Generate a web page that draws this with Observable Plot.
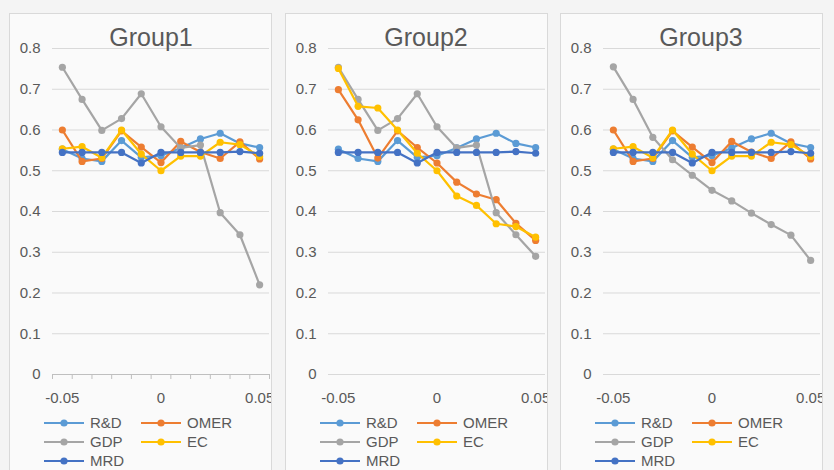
<!DOCTYPE html>
<html>
<head>
<meta charset="utf-8">
<script src="https://cdn.jsdelivr.net/npm/d3@7"></script>
<script src="https://cdn.jsdelivr.net/npm/@observablehq/plot@0.6"></script>
<style>
  html, body { margin: 0; padding: 0; }
  body { width: 834px; height: 470px; background: #f4f4f4; overflow: hidden; position: relative;
         font-family: "Liberation Sans", Arial, sans-serif; color: #595959; }
  .panel { position: absolute; top: 13px; width: 261px; height: 470px; border: 1px solid #d9d9d9;
           background: #fafafa; overflow: hidden; }
  .title { position: absolute; top: 8px; width: 200px; text-align: center; font-size: 25px; line-height: 30px; color: #595959; }
  .plotwrap { position: absolute; left: 0; top: 0; }
  .legend { position: absolute; top: 399px; left: 34px; display: grid; grid-template-columns: 97px 97px; row-gap: 0px; font-size: 15px; }
  .item { display: flex; align-items: center; height: 19px; white-space: nowrap; }
  .item svg { margin-right: 6px; }
</style>
</head>
<body>
<div id="root"></div>
<script>
// ---- data ----
const xs = [-0.05, -0.04, -0.03, -0.02, -0.01, 0, 0.01, 0.02, 0.03, 0.04, 0.05];
const seriesNames = ["R&D", "OMER", "GDP", "EC", "MRD"];
const seriesColors = ["#5B9BD5", "#ED7D31", "#A5A5A5", "#FFC000", "#4472C4"];
const groupNames = ["Group1", "Group2", "Group3"];
const yTicks = [0, 0.1, 0.2, 0.3, 0.4, 0.5, 0.6, 0.7, 0.8];
const xTickLabels = [-0.05, 0, 0.05];

const rd = [0.553, 0.530, 0.523, 0.574, 0.533, 0.537, 0.556, 0.578, 0.592, 0.567, 0.557];
const mrd = [0.545, 0.545, 0.545, 0.545, 0.519, 0.545, 0.545, 0.545, 0.545, 0.547, 0.543];
const omer1 = [0.600, 0.523, 0.530, 0.598, 0.558, 0.520, 0.572, 0.546, 0.530, 0.571, 0.529];
const ec1 = [0.554, 0.559, 0.532, 0.600, 0.541, 0.500, 0.536, 0.536, 0.570, 0.564, 0.535];
const gdp1 = [0.754, 0.675, 0.599, 0.628, 0.689, 0.608, 0.556, 0.563, 0.397, 0.343, 0.220];
const omer2 = [0.699, 0.625, 0.531, 0.598, 0.557, 0.519, 0.472, 0.443, 0.429, 0.371, 0.329];
const ec2 = [0.751, 0.658, 0.654, 0.600, 0.543, 0.500, 0.438, 0.415, 0.370, 0.363, 0.337];
const gdp2 = [0.754, 0.675, 0.599, 0.628, 0.689, 0.608, 0.556, 0.563, 0.397, 0.343, 0.290];
const omer3 = [0.600, 0.523, 0.530, 0.598, 0.558, 0.520, 0.572, 0.546, 0.530, 0.571, 0.529];
const ec3 = [0.554, 0.559, 0.532, 0.600, 0.541, 0.500, 0.536, 0.536, 0.570, 0.564, 0.535];
const gdp3 = [0.755, 0.675, 0.582, 0.527, 0.489, 0.452, 0.426, 0.396, 0.368, 0.342, 0.280];

const groups = [
  [rd, omer1, gdp1, ec1, mrd],
  [rd, omer2, gdp2, ec2, mrd],
  [rd, omer3, gdp3, ec3, mrd]
];

const panelLeft = [9, 285, 560];
const titleLeft = [41, 40, 40];

groups.forEach((vals, gi) => {
  const panel = document.createElement("div");
  panel.className = "panel";
  panel.style.left = panelLeft[gi] + "px";
  document.body.appendChild(panel);

  const rows = [];
  vals.forEach((arr, si) => arr.forEach((v, i) => rows.push({x: xs[i], y: v, s: seriesNames[si]})));

  const step = xs[1] - xs[0];
  const bounds = [xs[0] - step / 2, ...xs.map(x => x + step / 2)];

  const marks = [
    Plot.gridY(yTicks, {stroke: "#d9d9d9", strokeOpacity: 1, strokeWidth: 1}),
    Plot.axisY(yTicks, {tickSize: 0, tickPadding: 12, fontSize: 15, fill: "#595959", label: null,
      tickFormat: d => d === 0 ? "0" : d.toFixed(1)}),
    Plot.axisX(xTickLabels, {tickSize: 0, tickPadding: 18, fontSize: 15, fill: "#595959", label: null,
      tickFormat: d => d === 0 ? "0" : String(d)})
  ];
  if (gi === 0) {
    marks.push(Plot.ruleY([0], {stroke: "#bfbfbf", strokeWidth: 1}));
    marks.push(Plot.axisX(bounds, {tickSize: 5, stroke: "#bfbfbf", strokeOpacity: 1, label: null, tickFormat: () => ""}));
  }
  seriesNames.forEach((name, si) => {
    const d = rows.filter(r => r.s === name);
    marks.push(Plot.line(d, {x: "x", y: "y", stroke: seriesColors[si], strokeWidth: 2.2}));
    marks.push(Plot.dot(d, {x: "x", y: "y", fill: seriesColors[si], r: 3.6}));
  });

  const chart = Plot.plot({
    width: 261,
    height: 400,
    marginLeft: 42,
    marginRight: 2,
    marginTop: 34,
    marginBottom: 40,
    style: {background: "transparent", fontFamily: "'Liberation Sans', Arial, sans-serif", overflow: "hidden"},
    x: {domain: [xs[0] - step / 2, xs[xs.length - 1] + step / 2], label: null},
    y: {domain: [0, 0.8], label: null},
    marks
  });
  const wrap = document.createElement("div");
  wrap.className = "plotwrap";
  wrap.appendChild(chart);
  panel.appendChild(wrap);

  const title = document.createElement("div");
  title.className = "title";
  title.style.left = titleLeft[gi] + "px";
  title.textContent = groupNames[gi];
  panel.appendChild(title);

  const legend = document.createElement("div");
  legend.className = "legend";
  seriesNames.forEach((name, si) => {
    const item = document.createElement("div");
    item.className = "item";
    item.innerHTML = `<svg width="40" height="10"><line x1="0" y1="5" x2="40" y2="5" stroke="${seriesColors[si]}" stroke-width="2.2"/><circle cx="20" cy="5" r="3.6" fill="${seriesColors[si]}"/></svg><span>${name.replace("&", "&amp;")}</span>`;
    legend.appendChild(item);
  });
  panel.appendChild(legend);
});
</script>
</body>
</html>
